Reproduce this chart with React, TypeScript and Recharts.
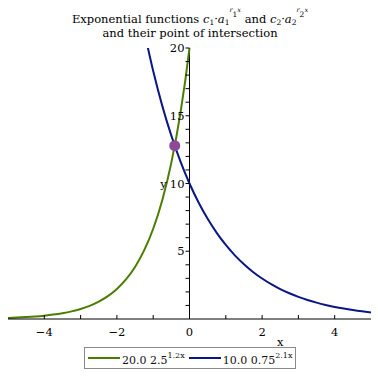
import React from 'react';
import { LineChart, Line, XAxis, YAxis, ReferenceLine, ReferenceDot, Legend } from 'recharts';

// Series 1: 20.0 * 2.5^(1.2x)
const growthX = [-5, -4.75, -4.5, -4.25, -4, -3.75, -3.5, -3.25, -3, -2.75, -2.5, -2.25, -2, -1.75, -1.5, -1.25, -1, -0.75, -0.5, -0.25, 0, 0.25];
const growthY = [0.082, 0.108, 0.142, 0.187, 0.246, 0.324, 0.426, 0.561, 0.739, 0.973, 1.28, 1.685, 2.218, 2.92, 3.844, 5.06, 6.662, 8.769, 11.54, 15.19, 20, 26.33];

// Series 2: 10.0 * 0.75^(2.1x)
const decayX = [-1.25, -1, -0.75, -0.5, -0.25, 0, 0.25, 0.5, 0.75, 1, 1.25, 1.5, 1.75, 2, 2.25, 2.5, 2.75, 3, 3.25, 3.5, 3.75, 4, 4.25, 4.5, 4.75, 5];
const decayY = [21.28, 18.3, 15.73, 13.53, 11.63, 10, 8.598, 7.393, 6.357, 5.465, 4.699, 4.041, 3.474, 2.987, 2.569, 2.208, 1.899, 1.633, 1.404, 1.207, 1.038, 0.893, 0.768, 0.66, 0.567, 0.488];

// Intersection point
const intersectX = -0.407;
const intersectY = 12.79;

const xTicks = [-4, -3, -2, -1, 0, 1, 2, 3, 4];
const yTicks = [1, 2, 3, 4, 5, 6, 7, 8, 9, 10, 11, 12, 13, 14, 15, 16, 17, 18, 19, 20];

const legendBase = ['20.0 2.5', '10.0 0.75'];
const legendExp = ['1.2x', '2.1x'];

const GREEN = '#4b7d00';
const BLUE = '#0a1688';
const PURPLE = '#8d4897';
const FONT = 'DejaVu Serif';

const W = 378;
const H = 378;
const MARGIN = { top: 48, right: 7, left: 8, bottom: 8 };
const ZERO_SHIFT = (W - MARGIN.left - MARGIN.right) / 2;

const growthData = growthX.map((x, i) => ({ x, y: growthY[i] }));
const decayData = decayX.map((x, i) => ({ x, y: decayY[i] }));

const fmt = (v: number) => (v < 0 ? '\u2212' + Math.abs(v) : String(v));

const XTick = (props: any) => {
  const { x, y, payload } = props;
  const v = payload.value;
  return (
    <g>
      <line x1={x} y1={y} x2={x} y2={y - 4} stroke="#000" strokeWidth={1} />
      {v % 2 === 0 && (
        <text x={x} y={y + 17} textAnchor="middle" fontFamily={FONT} fontSize={11.5} fill="#000">
          {fmt(v)}
        </text>
      )}
    </g>
  );
};

const YTick = (props: any) => {
  const { y, payload } = props;
  const v = payload.value;
  const ax = MARGIN.left + ZERO_SHIFT;
  return (
    <g>
      <line x1={ax - 4} y1={y} x2={ax} y2={y} stroke="#000" strokeWidth={1} />
      {v % 5 === 0 && (
        <text x={ax - 5} y={y + 4} textAnchor="end" fontFamily={FONT} fontSize={11.5} fill="#000">
          {fmt(v)}
        </text>
      )}
    </g>
  );
};

const XLabel = (props: any) => {
  const vb = props.viewBox || {};
  return (
    <text x={vb.x + vb.width * 0.75} y={vb.y + 27} textAnchor="middle" fontFamily={FONT} fontSize={11.5} fill="#000">
      x
    </text>
  );
};

const YLabel = (props: any) => {
  const vb = props.viewBox || {};
  return (
    <text x={MARGIN.left + ZERO_SHIFT - 26} y={vb.y + vb.height / 2 + 4} textAnchor="middle" fontFamily={FONT} fontSize={11.5} fill="#000">
      y
    </text>
  );
};

const colors = [GREEN, BLUE];

const LegendBox = () => (
  <div
    style={{
      display: 'inline-flex',
      alignItems: 'center',
      border: '1px solid #8a8a8a',
      height: 22,
      boxSizing: 'border-box',
      padding: '0 3px 0 3px',
      fontFamily: FONT,
      fontSize: 11,
      color: '#111',
      background: '#fff',
      whiteSpace: 'nowrap',
    }}
  >
    {legendBase.map((b, i) => (
      <span key={i} style={{ display: 'inline-flex', alignItems: 'center', marginRight: i === 0 ? 4 : 0 }}>
        <svg width={32} height={4} style={{ display: 'block' }}>
          <line x1={0} y1={2} x2={32} y2={2} stroke={colors[i]} strokeWidth={2} />
        </svg>
        <span style={{ marginLeft: 2, position: 'relative', top: 2 }}>
          {b}
          <span style={{ fontSize: 8, position: 'relative', top: -6 }}>{legendExp[i]}</span>
        </span>
      </span>
    ))}
  </div>
);

const Title = () => (
  <svg width={W} height={44} style={{ position: 'absolute', left: 0, top: 0, pointerEvents: 'none' }}>
    <text x={190} y={23.3} textAnchor="middle" fontFamily={FONT} fontSize={11.5} fill="#000">
      <tspan>Exponential functions </tspan>
      <tspan fontStyle="italic">c</tspan>
      <tspan fontSize={7.5} dy={2}>1</tspan>
      <tspan dy={-2}>{'\u00b7'}</tspan>
      <tspan fontStyle="italic">a</tspan>
      <tspan fontSize={7.5} dy={2}>1</tspan>
      <tspan fontSize={6.5} fontStyle="italic" dy={-13}>r</tspan>
      <tspan fontSize={7.5} dy={5}>1</tspan>
      <tspan fontSize={6.5} fontStyle="italic" dy={-5}>x</tspan>
      <tspan dy={11}> and </tspan>
      <tspan fontStyle="italic">c</tspan>
      <tspan fontSize={7.5} dy={2}>2</tspan>
      <tspan dy={-2}>{'\u00b7'}</tspan>
      <tspan fontStyle="italic">a</tspan>
      <tspan fontSize={7.5} dy={2}>2</tspan>
      <tspan fontSize={6.5} fontStyle="italic" dy={-13}>r</tspan>
      <tspan fontSize={7.5} dy={5}>2</tspan>
      <tspan fontSize={6.5} fontStyle="italic" dy={-5}>x</tspan>
    </text>
    <text x={190} y={37.3} textAnchor="middle" fontFamily={FONT} fontSize={11.5} fill="#000">
      and their point of intersection
    </text>
  </svg>
);

export default function App() {
  return (
    <div style={{ position: 'absolute', left: 0, top: 0, width: W, height: H, background: '#fff' }}>
      <LineChart width={W} height={H} margin={MARGIN}>
        <XAxis
          type="number"
          dataKey="x"
          domain={[-5, 5]}
          ticks={xTicks}
          allowDataOverflow
          height={28}
          axisLine={{ stroke: '#000', strokeWidth: 1 }}
          tickLine={false}
          tickSize={0}
          tickMargin={0}
          tick={<XTick />}
          interval={0}
          label={<XLabel />}
        />
        <YAxis
          type="number"
          dataKey="y"
          domain={[0, 20]}
          ticks={yTicks}
          allowDataOverflow
          width={30}
          mirror
          axisLine={false}
          tickLine={false}
          tickSize={0}
          tickMargin={0}
          tick={<YTick />}
          interval={0}
          label={<YLabel />}
        />
        <ReferenceLine x={0} stroke="#000" strokeWidth={1} ifOverflow="hidden" />
        <Legend verticalAlign="bottom" align="left" wrapperStyle={{ left: 84, bottom: 9, width: 'auto' }} content={<LegendBox />} />
        <Line
          data={growthData}
          dataKey="y"
          type="monotone"
          stroke={GREEN}
          strokeWidth={2}
          dot={false}
          isAnimationActive={false}
          name="20.0 2.5^1.2x"
        />
        <Line
          data={decayData}
          dataKey="y"
          type="monotone"
          stroke={BLUE}
          strokeWidth={2}
          dot={false}
          isAnimationActive={false}
          name="10.0 0.75^2.1x"
        />
        <ReferenceDot x={intersectX} y={intersectY} r={5.5} fill={PURPLE} stroke="none" />
      </LineChart>
      <Title />
    </div>
  );
}
